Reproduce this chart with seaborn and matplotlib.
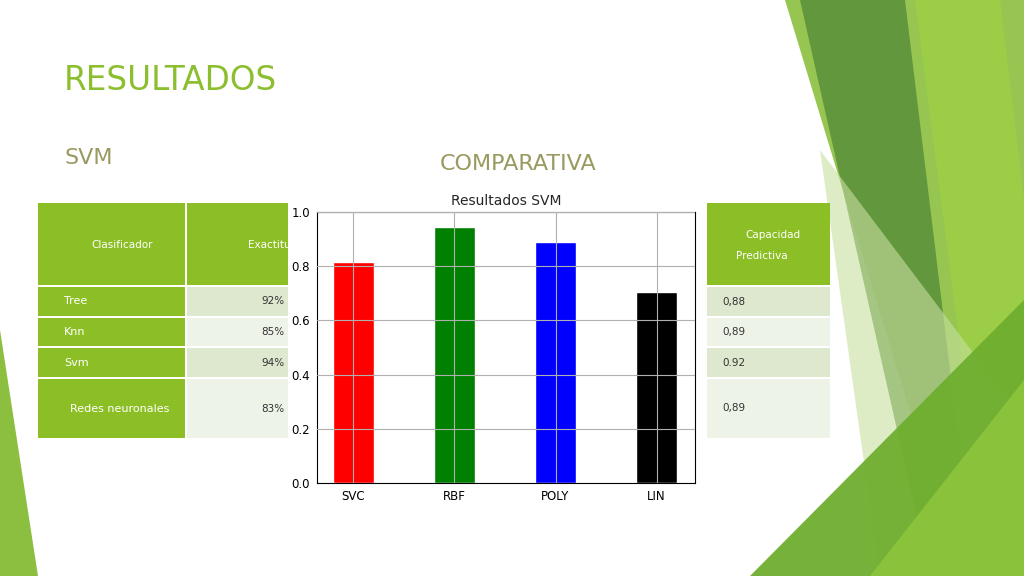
import matplotlib
matplotlib.use("Agg")
import matplotlib.pyplot as plt
import seaborn as sns
import pandas as pd
from matplotlib.patches import Polygon, Rectangle

categories = ["SVC", "RBF", "POLY", "LIN"]
values = [0.815, 0.945, 0.89, 0.705]
bar_colors = ["#ff0000", "#008000", "#0000ff", "#000000"]
clasificadores = ["Tree", "Knn", "Svm", "Redes neuronales"]
exactitud = ["92%", "85%", "94%", "83%"]
capacidad = ["0,88", "0,89", "0.92", "0,89"]

sns.set_theme(style="whitegrid")
plt.rcParams['font.family'] = ['DejaVu Sans']
W, H = 1024, 576
fig = plt.figure(figsize=(W/100, H/100), dpi=100)
fig.patch.set_facecolor("white")

def px(x, y):
    return (x / W, 1 - y / H)

def poly(pts, color, alpha=1.0, z=0):
    fig.patches.append(Polygon([px(*p) for p in pts], closed=True, transform=fig.transFigure,
                               facecolor=color, edgecolor="none", alpha=alpha, zorder=z))

def rect(x0, y0, x1, y1, color, z=1):
    fig.patches.append(Rectangle(px(x0, y1), (x1-x0)/W, (y1-y0)/H, transform=fig.transFigure,
                                 facecolor=color, edgecolor="none", zorder=z))

# decorative green shapes
poly([(785, 0), (1024, 0), (1024, 576), (960, 576)], "#8cbf3f", 0.9)
poly([(800, 0), (905, 0), (975, 576), (930, 576)], "#5a8f3a", 0.85)
poly([(915, 0), (1000, 0), (1024, 200), (1024, 576), (990, 576)], "#9ccf45", 0.9)
poly([(820, 150), (1024, 420), (1024, 576), (880, 576)], "#c8e0a0", 0.6)
poly([(750, 576), (1024, 300), (1024, 576)], "#6fae2f", 0.95)
poly([(870, 576), (1024, 380), (1024, 576)], "#8cc43c", 0.95)
poly([(0, 330), (38, 576), (0, 576)], "#8cbf3f", 1.0)

# title texts
fig.text(*px(64, 80), "RESULTADOS", fontsize=23.5, color="#8cbf2f", va="center")
fig.text(*px(64, 158), "SVM", fontsize=16, color="#9a9a60", va="center")
fig.text(*px(440, 164), "COMPARATIVA", fontsize=16, color="#9a9a60", va="center")

# table
hdr = "#8cbf26"
rows_y = [(287, 316), (318, 346), (348, 377), (379, 438)]
rect(38, 203, 185, 285, hdr); rect(187, 203, 300, 285, hdr); rect(707, 203, 830, 285, hdr)
fig.text(*px(122, 245), "Clasificador", color="white", fontsize=7.5, ha="center", va="center")
fig.text(*px(248, 245), "Exactitud", color="white", fontsize=7.5, va="center")
fig.text(*px(773, 235), "Capacidad", color="white", fontsize=7.5, ha="center", va="center")
fig.text(*px(762, 256), "Predictiva", color="white", fontsize=7.5, ha="center", va="center")
for i, ((y0, y1), c, e, p) in enumerate(zip(rows_y, clasificadores, exactitud, capacidad)):
    light = "#dde8cf" if i % 2 == 0 else "#eef3e8"
    rect(38, y0, 185, y1, hdr); rect(187, y0, 300, y1, light); rect(707, y0, 830, y1, light)
    ym = (y0 + y1) / 2
    fig.text(*px(64 if i < 3 else 70, ym), c, color="white", fontsize=8, va="center")
    fig.text(*px(284, ym), e, color="#333333", fontsize=7.5, ha="right", va="center")
    fig.text(*px(722, ym), p, color="#333333", fontsize=7.5, va="center")

# chart white background
rect(288, 185, 705, 510, "white", z=2)

ax = fig.add_axes([317/W, 1 - 483/H, 378/W, 271/H], zorder=3)
df = pd.DataFrame({"cat": categories, "val": values})
sns.barplot(data=df, x="cat", y="val", hue="cat", palette=bar_colors, width=0.41,
            legend=False, ax=ax, saturation=1)
ax.set_xlim(-0.36, 3.38)
ax.set_ylim(0, 1.0)
ax.set_yticks([0, 0.2, 0.4, 0.6, 0.8, 1.0])
ax.set_yticklabels(["0.0", "0.2", "0.4", "0.6", "0.8", "1.0"])
ax.set_xlabel(""); ax.set_ylabel("")
ax.set_title("Resultados SVM", fontsize=10, pad=5)
ax.grid(True, color="#b0b0b0", linewidth=0.8)
ax.set_axisbelow(False)
for b in ax.patches:
    b.set_zorder(1)
ax.tick_params(labelsize=8.5, length=3, pad=2, colors="black")
for s in ax.spines.values():
    s.set_color("black"); s.set_linewidth(0.8)

fig.savefig("out.png", dpi=100)
